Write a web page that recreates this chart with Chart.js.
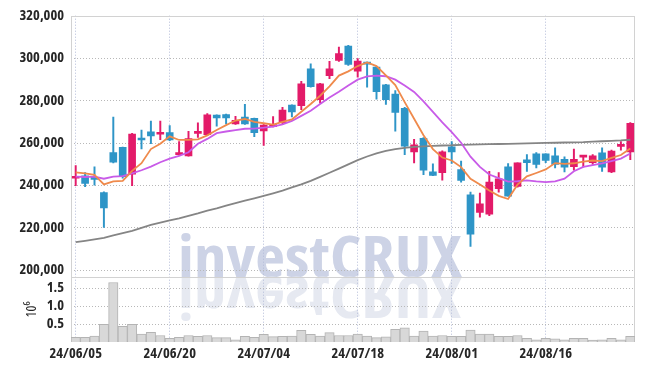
<!DOCTYPE html>
<html>
<head>
<meta charset="utf-8">
<script src="https://cdn.jsdelivr.net/npm/chart.js@4.4.1/dist/chart.umd.min.js"></script>
<style>
  html, body { margin: 0; padding: 0; background: #fff; }
  #wrap { width: 645px; height: 370px; }
</style>
</head>
<body>
<div id="wrap"><canvas id="chart"></canvas></div>
<script>
// trading days, 2024-06-05 .. 2024-08-29
const dates = [
  "24/06/05","24/06/07","24/06/10","24/06/11","24/06/12","24/06/13","24/06/14","24/06/17","24/06/18","24/06/19",
  "24/06/20","24/06/21","24/06/24","24/06/25","24/06/26","24/06/27","24/06/28","24/07/01","24/07/02","24/07/03",
  "24/07/04","24/07/05","24/07/08","24/07/09","24/07/10","24/07/11","24/07/12","24/07/15","24/07/16","24/07/17",
  "24/07/18","24/07/19","24/07/22","24/07/23","24/07/24","24/07/25","24/07/26","24/07/29","24/07/30","24/07/31",
  "24/08/01","24/08/02","24/08/05","24/08/06","24/08/07","24/08/08","24/08/09","24/08/12","24/08/13","24/08/14",
  "24/08/16","24/08/19","24/08/20","24/08/21","24/08/22","24/08/23","24/08/26","24/08/27","24/08/28","24/08/29"
];
const shownDates = ["24/06/05","24/06/20","24/07/04","24/07/18","24/08/01","24/08/16"];
const priceTicks = [200000, 220000, 240000, 260000, 280000, 300000, 320000];
const volumeTicks = [0.5, 1.0, 1.5];

const opens = [
  243200,244400,243200,236400,255400,257800,245100,261500,265100,264000,
  264800,254300,253800,264400,263800,273000,273300,268900,272100,271500,
  265600,267600,269500,277800,277500,294900,280300,291700,298900,305600,
  293800,297500,295700,287300,283000,276300,255600,262100,246300,245900,
  258100,247300,235400,227100,226300,238300,248600,239400,251900,254800,
  254800,253800,252200,248700,253200,250600,255200,246200,258300,255700
];
const highs = [
  249200,245900,248600,236800,272100,258000,264400,266000,270200,270200,
  268100,260600,265400,269400,273800,273200,273500,272500,278100,271700,
  268600,272400,276700,277900,289000,297300,288100,298400,305200,306000,
  299700,298100,296000,287600,284600,276700,261600,262400,250000,256200,
  260500,251300,236700,236200,246500,245900,250200,250500,254400,255400,
  254800,257600,253300,257000,253800,254400,257600,256500,260500,269500
];
const lows = [
  239700,239200,240000,220000,250500,243200,239700,257100,259500,261400,
  261000,254100,253700,262500,263500,267800,268900,268700,268700,262900,
  258700,267500,268700,272200,275600,286200,278700,290200,298400,296500,
  291000,286200,280600,278100,265400,254400,250500,244900,244400,242300,
  250200,241400,211000,224800,225600,236700,234800,239000,246500,248100,
  250600,248100,246200,247000,248600,249700,246500,245900,256500,252000
];
const closes = [
  244000,240800,242700,229200,250800,244000,264100,261300,263200,264900,
  261300,255400,261900,265400,273200,271700,271700,270600,268900,264800,
  268300,268600,275400,274600,287800,286500,287800,294900,302100,297000,
  298600,297100,284100,280300,274300,258400,259000,247000,244600,255700,
  255700,242200,216800,231100,241400,243000,234800,250500,250600,249700,
  251600,249700,248400,252200,253800,253800,248400,256000,259200,269200
];

// moving averages
const ma5 = [
  246000,245500,244800,240300,241700,242000,246700,250300,257000,259500,
  263000,261300,261300,261600,263500,266000,268300,270500,271200,269800,
  269200,268600,269800,271000,274600,278300,282200,286600,291700,293700,
  296200,297900,296200,291800,287200,279200,271300,263500,257000,253000,
  251600,248500,243000,240300,237400,234900,233400,240200,244100,245700,
  247400,250400,250000,250300,251100,251600,251300,252800,254200,257300
];
const ma10 = [
  244000,243800,244000,243000,244000,244200,245500,247000,248700,250800,
  252500,253800,255500,259500,261800,264500,265300,266000,266600,266700,
  267100,267600,268700,270300,272700,275100,278300,281400,284100,287000,
  289800,291300,291700,291400,289800,287000,284000,279500,274600,269600,
  265000,260000,253400,248600,245000,243300,241600,241800,242200,241700,
  241400,241700,243000,246500,248600,249400,250200,251300,252500,254900
];
const maLong = [
  213000,213600,214300,215100,216200,217300,218400,219800,221200,222300,
  223300,224300,225500,226600,227900,229000,230300,231500,232600,233700,
  234900,236100,237400,238900,240300,242000,243900,245800,247800,249800,
  251800,253500,255000,256100,257000,257600,258000,258300,258500,258700,
  258800,259000,259100,259200,259300,259400,259500,259600,259700,259800,
  259900,260000,260100,260200,260300,260500,260700,260900,261100,261400
];

// volume, in millions
const volumes = [
  0.13,0.13,0.16,0.49,1.64,0.43,0.49,0.22,0.27,0.18,
  0.10,0.13,0.18,0.155,0.18,0.12,0.12,0.06,0.155,0.13,
  0.21,0.15,0.155,0.16,0.32,0.21,0.16,0.26,0.18,0.18,
  0.22,0.16,0.12,0.14,0.35,0.39,0.16,0.30,0.16,0.18,
  0.155,0.155,0.33,0.22,0.22,0.155,0.155,0.18,0.10,0.06,
  0.10,0.09,0.06,0.10,0.10,0.05,0.06,0.10,0.06,0.155
];

const upColor = "#e31b69";
const downColor = "#2e95c7";
const candleColors = opens.map((o, i) => closes[i] >= o ? upColor : downColor);

// "condensed" rides along in the weight slot so the canvas font string picks the narrow Open Sans
const fontFamily = "'Open Sans', sans-serif";
const tickFont = { family: fontFamily, size: 14.5, weight: "bold condensed" };
const tickColor = "#262626";

const watermark = {
  id: "watermark",
  beforeDraw(chart) {
    const { ctx } = chart;
    const base = chart.scales.y.bottom;
    const text = "investCRUX";
    ctx.save();
    ctx.font = "bold condensed 58px " + fontFamily;
    const w = ctx.measureText(text).width;
    ctx.translate(178, base);
    ctx.scale(284 / w, 1);
    ctx.textBaseline = "alphabetic";
    ctx.fillStyle = "#cdd3e6";
    ctx.fillText(text, 0, 0);
    ctx.scale(1, -1);
    ctx.fillStyle = "#e6e9f1";
    ctx.fillText(text, 0, 0);
    ctx.restore();
  }
};

// dotted horizontal rules at the tick values, panel divider and outer frame
const frame = {
  id: "frame",
  beforeDatasetsDraw(chart) {
    const { ctx, chartArea: a, scales } = chart;
    ctx.save();
    ctx.lineWidth = 1;
    ctx.strokeStyle = "#b8b8b8";
    ctx.setLineDash([1, 2]);
    const rule = y => {
      const py = Math.round(y) + 0.5;
      ctx.beginPath();
      ctx.moveTo(a.left, py);
      ctx.lineTo(a.right, py);
      ctx.stroke();
    };
    priceTicks.forEach(v => rule(scales.y.getPixelForValue(v)));
    volumeTicks.forEach(v => rule(scales.yVol.getPixelForValue(v)));
    ctx.setLineDash([]);
    ctx.strokeStyle = "#d2d2d2";
    ctx.strokeRect(Math.round(a.left) + 0.5, Math.round(a.top) + 0.5, Math.round(a.right - a.left) - 1, Math.round(a.bottom - a.top) - 1);
    rule(scales.yVol.top);
    ctx.restore();
  }
};

new Chart(document.getElementById("chart"), {
  type: "bar",
  data: {
    labels: dates,
    datasets: [
      { type: "line", label: "MA5", data: ma5, yAxisID: "y", borderColor: "#ef8a4c", borderWidth: 1.8, pointRadius: 0, tension: 0, order: 1 },
      { type: "line", label: "MA10", data: ma10, yAxisID: "y", borderColor: "#c85be8", borderWidth: 1.8, pointRadius: 0, tension: 0, order: 1 },
      { type: "line", label: "MA60", data: maLong, yAxisID: "y", borderColor: "#858585", borderWidth: 1.8, pointRadius: 0, tension: 0, order: 1 },
      { label: "wick", data: lows.map((l, i) => [l, highs[i]]), yAxisID: "y", backgroundColor: candleColors, barThickness: 1.3, grouped: false, order: 2 },
      { label: "body", data: opens.map((o, i) => [o, closes[i]]), yAxisID: "y", backgroundColor: candleColors, barThickness: 7, minBarLength: 2, grouped: false, order: 2 },
      { label: "volume", data: volumes, yAxisID: "yVol", backgroundColor: "#d8d8d8", borderColor: "#b4b4b4", borderWidth: 1, barPercentage: 1, categoryPercentage: 1, grouped: false, order: 3 }
    ]
  },
  options: {
    responsive: true,
    maintainAspectRatio: false,
    animation: false,
    devicePixelRatio: 1,
    layout: { padding: { top: 14, right: 10, left: 0, bottom: 0 } },
    plugins: { legend: { display: false }, tooltip: { enabled: false } },
    scales: {
      x: {
        offset: true,
        grid: {
          offset: false,
          drawTicks: false,
          color: c => shownDates.includes(dates[c.index]) ? "#b4bcd8" : "rgba(0,0,0,0)"
        },
        border: { display: false, dash: [1, 2] },
        ticks: {
          autoSkip: false, maxRotation: 0, padding: 3, font: tickFont, color: tickColor,
          callback: (v, i) => shownDates.includes(dates[i]) ? dates[i] : ""
        },
        afterFit: s => { s.height = 28; }
      },
      yVol: {
        position: "left", stack: "panes", stackWeight: 1,
        min: 0, max: 1.8,
        afterBuildTicks: s => { s.ticks = volumeTicks.map(v => ({ value: v })); },
        grid: { drawTicks: false, color: "rgba(0,0,0,0)" },
        border: { display: false },
        ticks: {
          autoSkip: false, padding: 7, font: tickFont, color: tickColor,
          callback: v => v.toFixed(1)
        },
        title: { display: true, text: "10⁶", color: tickColor, font: { family: fontFamily, size: 14, weight: "condensed" }, padding: { top: 24, bottom: 0 } },
        afterFit: s => { s.width = 71; }
      },
      y: {
        position: "left", stack: "panes", stackWeight: 4,
        min: 196700, max: 320000,
        afterBuildTicks: s => { s.ticks = priceTicks.map(v => ({ value: v })); },
        grid: { drawTicks: false, color: "rgba(0,0,0,0)" },
        border: { display: false },
        ticks: {
          autoSkip: false, padding: 7, font: tickFont, color: tickColor,
          callback: v => v.toLocaleString("en-US")
        },
        afterFit: s => { s.width = 71; }
      }
    }
  },
  plugins: [watermark, frame]
});
</script>
</body>
</html>
